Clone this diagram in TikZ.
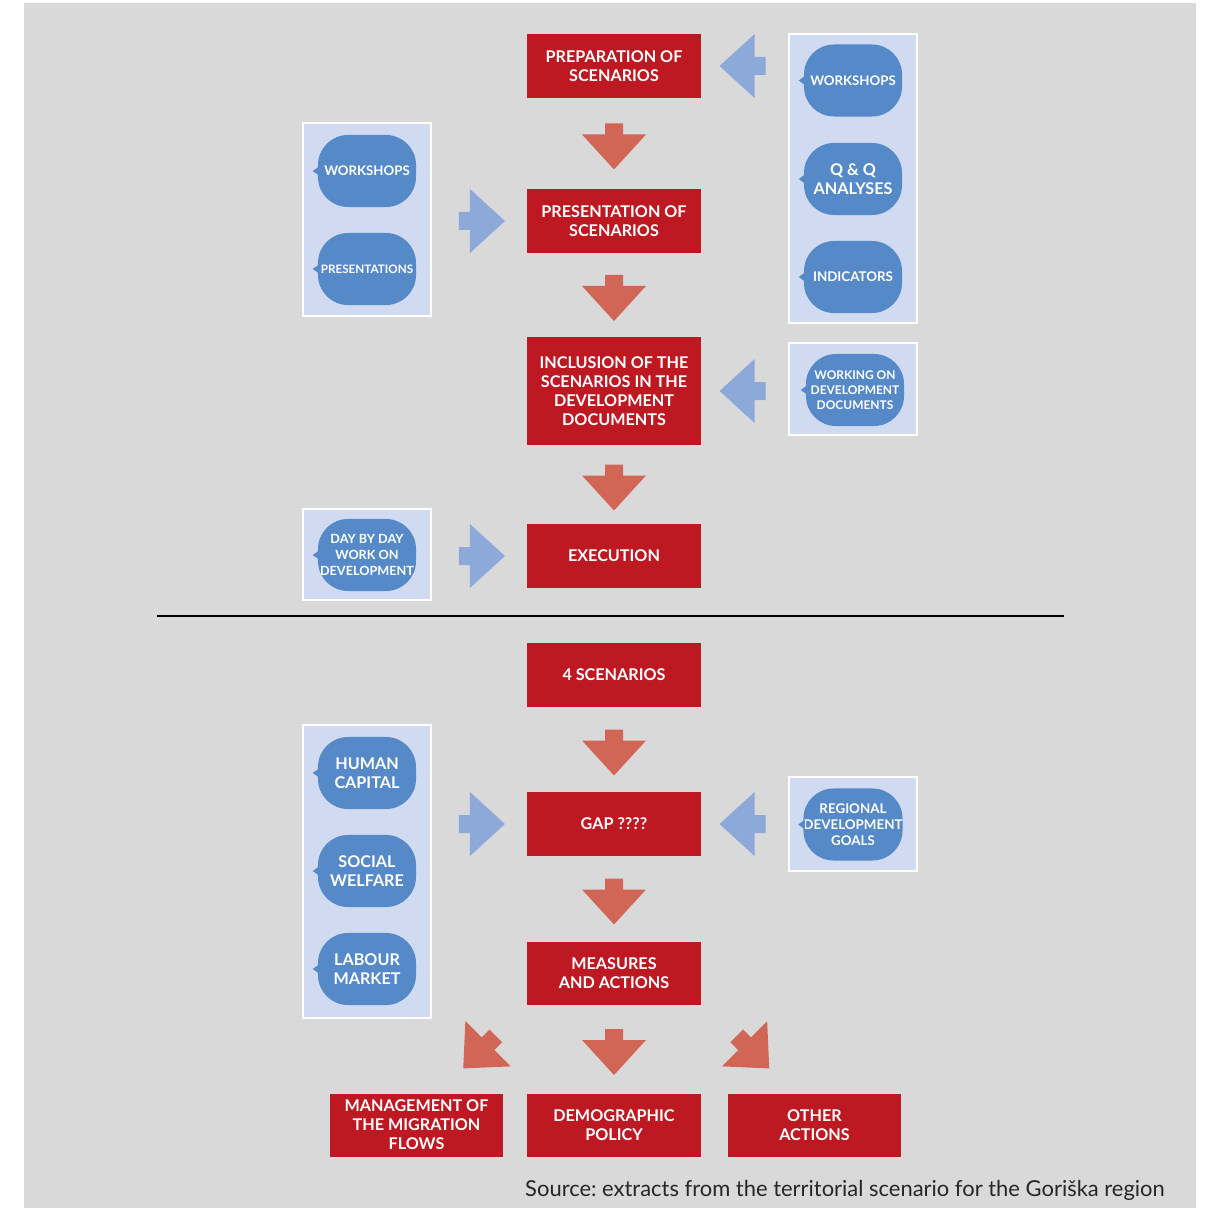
\documentclass[tikz,border=0pt]{standalone}
\usepackage{fontspec}
\setmainfont{Lato}
\usetikzlibrary{calc}

\definecolor{bggray}{HTML}{D9D9D9}
\definecolor{boxred}{HTML}{BE1823}
\definecolor{arrowred}{HTML}{D26656}
\definecolor{arrowblue}{HTML}{8CA9DA}
\definecolor{panelblue}{HTML}{D0DAF1}
\definecolor{bubblue}{HTML}{5589C7}

\frenchspacing

\begin{document}
\begin{tikzpicture}[
    x=0.025cm, y=-0.025cm,
    every node/.style={align=center}
]

\tikzset{
    stepbox/.style={fill=boxred, text=white, minimum width=4.325cm, minimum height=1.575cm, inner sep=2pt, font=\fontsize{11.5}{13.5}\selectfont\bfseries},
    panel/.style={draw=white, line width=1pt, fill=panelblue, minimum width=3.2cm},
    bubble/.style={fill=bubblue, text=white, rounded corners=0.75cm, minimum width=2.45cm, minimum height=1.8cm, inner sep=0pt, font=\fontsize{9.4}{13}\selectfont\bfseries},
    bigtext/.style={font=\fontsize{11.5}{13.5}\selectfont\bfseries},
    smalltext/.style={font=\fontsize{8.3}{10.6}\selectfont\bfseries},
    blockarrow/.pic={\path[pic actions] (-23,-9) -- (-12,-9) -- (-12,-32) -- (23,0) -- (-12,32) -- (-12,9) -- (-23,9) -- cycle;},
    redarrow/.style={fill=arrowred},
    bluearrow/.style={fill=arrowblue}
}

% background and margins
\useasboundingbox (0,0) rectangle (1209,1208);
\fill[bggray] (24,3) rectangle (1196,1208);

% blue panels
\node[panel, minimum height=7.225cm] (rp1) at (853,178.5) {};
\node[panel, minimum height=4.825cm] (lp1) at (367,219.5) {};
\node[panel, minimum height=2.3cm] (rp2) at (853,389) {};
\node[panel, minimum height=2.275cm] (lp2) at (367,554.5) {};
\node[panel, minimum height=7.325cm] (lp3) at (367,871.5) {};
\node[panel, minimum height=2.35cm] (rp3) at (853,824) {};

% bubbles
\node[bubble] (ws1) at (853,80.5) {WORKSHOPS};
\node[bubble, bigtext] (qq) at (853,179) {Q \& Q\\ANALYSES};
\node[bubble, font=\fontsize{9.5}{13}\selectfont\bfseries] (ind) at (853,277) {INDICATORS};
\node[bubble] (ws2) at (367,171) {WORKSHOPS};
\node[bubble, smalltext] (prs) at (367,269) {PRESENTATIONS};
\node[bubble, font=\fontsize{8.5}{10.6}\selectfont\bfseries] (wdd) at (855,390) {WORKING ON\\DEVELOPMENT\\DOCUMENTS};
\node[bubble, font=\fontsize{9}{11.3}\selectfont\bfseries] (day) at (367,555) {DAY BY DAY\\WORK ON\\DEVELOPMENT};
\node[bubble, bigtext] (hc) at (367,773) {HUMAN\\CAPITAL};
\node[bubble, bigtext] (sw) at (367,871) {SOCIAL\\WELFARE};
\node[bubble, bigtext] (lm) at (367,969) {LABOUR\\MARKET};
\node[bubble, font=\fontsize{9.5}{11.3}\selectfont\bfseries] (rdg) at (853,824.5) {REGIONAL\\DEVELOPMENT\\GOALS};

\foreach \b in {ws1,qq,ind,ws2,prs,wdd,day,hc,sw,lm,rdg}
    \fill[bubblue] (\b.west) ++(2,-5) -- ++(-7,5) -- ++(7,5) -- cycle;

% red steps
\node[stepbox] (prep) at (614,66) {PREPARATION OF\\SCENARIOS};
\node[stepbox] (pres) at (614,221) {PRESENTATION OF\\SCENARIOS};
\node[stepbox, minimum height=2.675cm] (incl) at (614,391) {INCLUSION OF THE\\SCENARIOS IN THE\\DEVELOPMENT\\DOCUMENTS};
\node[stepbox] (exec) at (614,556) {EXECUTION};
\node[stepbox] (scen) at (614,675) {4 SCENARIOS};
\node[stepbox] (gap) at (614,824) {GAP ????};
\node[stepbox] (meas) at (614,973) {MEASURES\\AND ACTIONS};
\node[stepbox] (demo) at (614,1125) {DEMOGRAPHIC\\POLICY};
\node[stepbox] (mgmt) at (416.5,1125) {MANAGEMENT OF\\THE MIGRATION\\FLOWS};
\node[stepbox] (other) at (814.5,1125) {OTHER\\ACTIONS};

% arrows down
\foreach \a/\b in {prep/pres, pres/incl, incl/exec, scen/gap, gap/meas, meas/demo}
    \pic[redarrow, rotate=-90] at ($(\a.south)!0.5!(\b.north)+(0,3)$) {blockarrow};
\pic[redarrow, rotate=-135] at ($(mgmt.north)+(63,-41)$) {blockarrow};
\pic[redarrow, rotate=-45] at ($(other.north)+(-61.5,-41)$) {blockarrow};

% arrows from the panels
\foreach \p/\s in {lp1/pres, lp2/exec, lp3/gap}
    \pic[bluearrow] at ($(\p.east |- \s.west)!0.5!(\s.west)+(2.5,0)$) {blockarrow};
\foreach \p/\s in {rp1/prep, rp2/incl, rp3/gap}
    \pic[bluearrow, rotate=180] at ($(\p.west |- \s.east)!0.5!(\s.east)+(-2,0)$) {blockarrow};

\draw[line width=0.8pt] (157,616) -- (1064,616);

\node[anchor=east, inner sep=0pt, font=\fontsize{15.6}{18}\selectfont, text=black!85] (src) at (1165,1190) {Source: extracts from the territorial scenario for the Goriška region};

\end{tikzpicture}
\end{document}
